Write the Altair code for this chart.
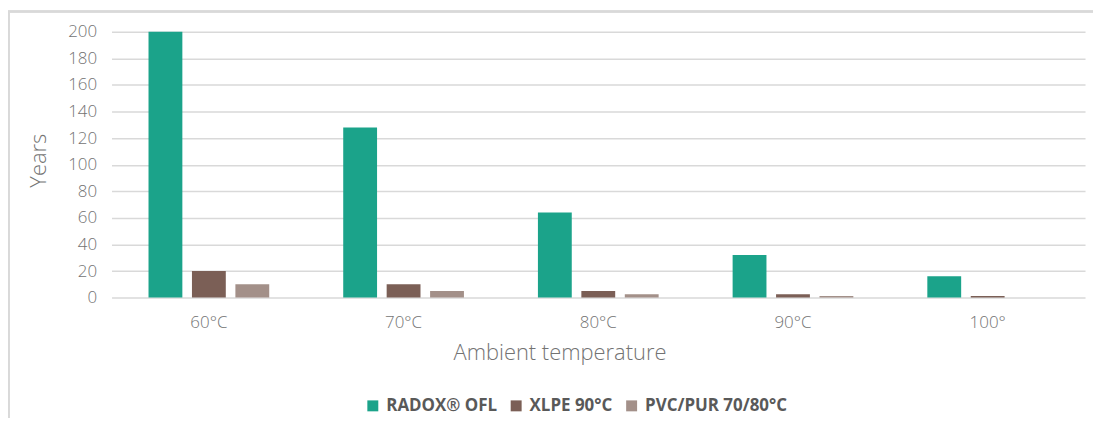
import altair as alt
import pandas as pd

categories = ["60°C", "70°C", "80°C", "90°C", "100°"]
series = ["RADOX® OFL", "XLPE 90°C", "PVC/PUR 70/80°C"]
radox = [200, 128, 64, 32, 16]
xlpe = [20, 10, 5, 2.5, 1.25]
pvc = [10, 5, 2.5, 1.25, 0]
colors = ["#1BA38A", "#7B5F56", "#A39089"]

rows = []
for i, c in enumerate(categories):
    for s, vals in zip(series, [radox, xlpe, pvc]):
        rows.append({"temp": c, "series": s, "years": vals[i]})
df = pd.DataFrame(rows)

W, H = 978, 267
FONT = "Open Sans"

bars = alt.Chart(df).mark_bar().encode(
    x=alt.X("temp:N", sort=categories,
            scale=alt.Scale(paddingInner=0.38, paddingOuter=0.19),
            axis=alt.Axis(title="Ambient temperature", labelAngle=0, ticks=False,
                          domain=False, labelPadding=17, labelFontSize=17,
                          labelColor="#737373", labelFont=FONT, labelFontWeight=300,
                          titleFont=FONT, titleFontWeight=300, titleFontSize=22,
                          titleColor="#737373", titleX=450, titleY=55,
                          titleAlign="center", titleBaseline="middle")),
    xOffset=alt.XOffset("series:N", sort=series,
                        scale=alt.Scale(paddingInner=0.221, paddingOuter=0)),
    y=alt.Y("years:Q", scale=alt.Scale(domain=[0, 200], nice=False),
            axis=alt.Axis(title="Years", values=list(range(0, 201, 20)),
                          ticks=False, domain=False, labelPadding=15,
                          labelFontSize=17, labelColor="#737373", labelFont=FONT,
                          labelFontWeight=300, gridColor="#d9d9d9", gridWidth=1.5,
                          titleFont=FONT, titleFontWeight=300, titleFontSize=22,
                          titleColor="#737373", titleX=-73, titleY=129,
                          titleAngle=-90, titleAlign="center", titleBaseline="middle")),
    color=alt.Color("series:N", sort=series,
                    scale=alt.Scale(domain=series, range=colors),
                    legend=alt.Legend(title=None, orient="none", direction="horizontal",
                                      legendX=254, legendY=367, symbolType="square",
                                      symbolSize=121, symbolStrokeWidth=0,
                                      labelFont=FONT, labelFontWeight="bold",
                                      labelFontSize=17, labelColor="#595959",
                                      columnPadding=10, labelOffset=5)),
)

frame = alt.Chart(df).mark_rect(fill="transparent", stroke="#d9d9d9",
                                strokeWidth=1.5).encode(
    x=alt.value(-103.5), x2=alt.value(1200),
    y=alt.value(-20.5), y2=alt.value(600),
)

chart = alt.layer(frame, bars).properties(
    width=W, height=H,
    autosize=alt.AutoSizeParams(type="none"),
    padding={"left": 104, "top": 23, "right": 8, "bottom": 120},
    background="white",
).configure_view(stroke=None).configure_axis(gridColor="#d9d9d9")

chart.save("out.html", embed_options={"renderer": "svg", "actions": False})
